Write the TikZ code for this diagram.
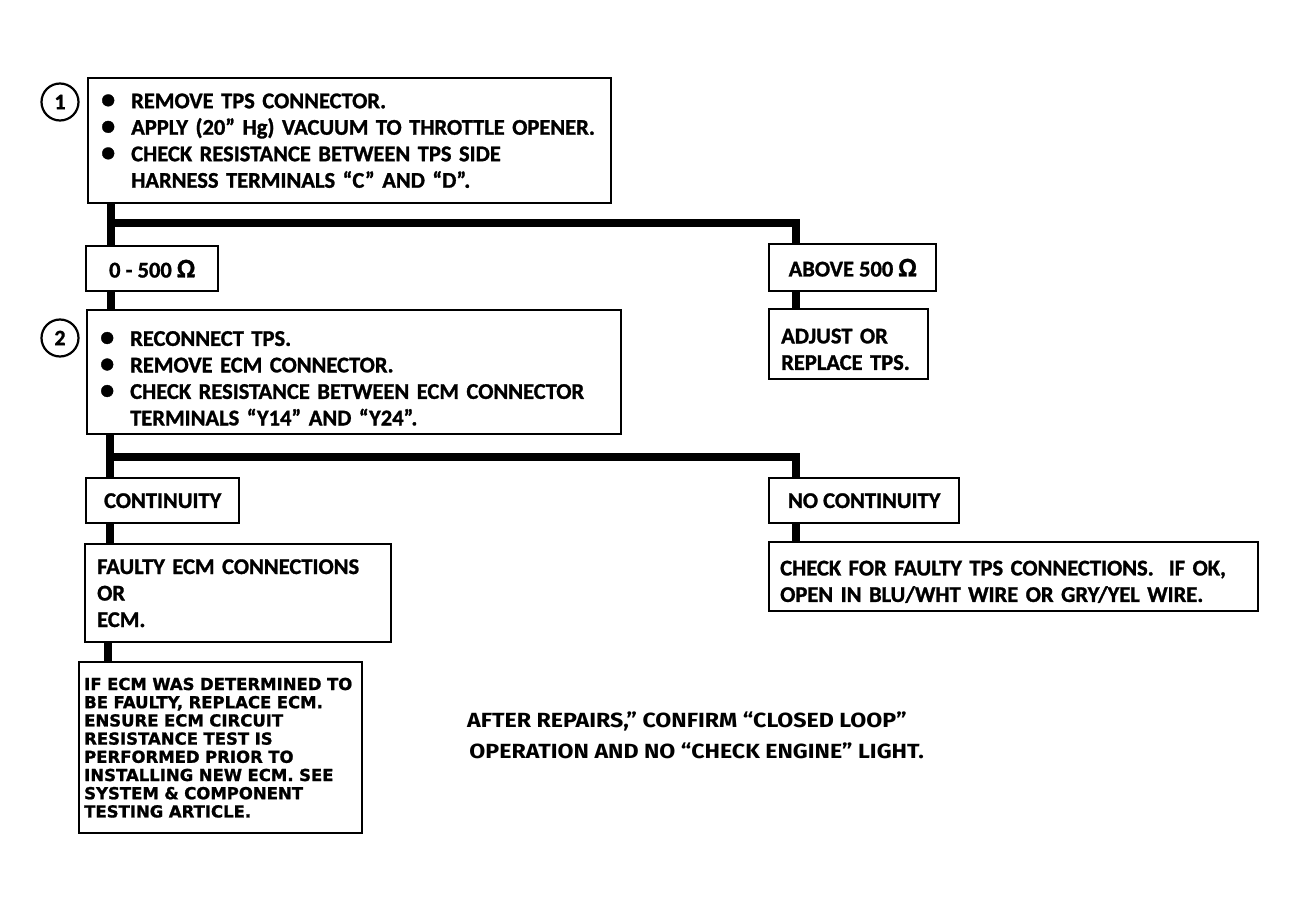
\documentclass[tikz,border=0pt]{standalone}
\usepackage{fontspec}
\setmainfont{Carlito}[BoldFeatures={FakeBold=1.2}]
\newfontfamily\grasfont{DejaVu Sans}[BoldFeatures={FakeBold=1.2}]
\newfontfamily\notefont{Fira Sans}
\newcommand{\puce}[1]{\mbox{\makebox[30pt][l]{\scalebox{1.25}{\textbullet}}#1}}
\newcommand{\suite}[1]{\mbox{\hspace*{30pt}#1}}
\newcommand{\ohm}{\scalebox{1.2}{Ω}}

\begin{document}
\begin{tikzpicture}[x=1pt,y=-1pt]
\tikzset{boite/.style={draw, line width=2.4pt, rectangle, anchor=north west, inner xsep=12pt, inner ysep=0pt, align=left, font=\fontsize{22.5}{26.5}\selectfont\bfseries},
  trait/.style={line width=8pt},
  rond/.style={draw, circle, line width=2.2pt, minimum size=37pt, inner sep=0pt, font=\fontsize{22}{22}\selectfont\bfseries}}
\useasboundingbox (0,0) rectangle (1295,909);
\node[rond] (K1) at (60,102) {1};
\node[boite, inner xsep=13pt, text width=497pt, minimum height=125pt] (E1) at (87,77) {\puce{REMOVE TPS CONNECTOR.}\\ \puce{APPLY (20” Hg) VACUUM TO THROTTLE OPENER.}\\ \puce{CHECK RESISTANCE BETWEEN TPS SIDE}\\ \suite{HARNESS TERMINALS “C” AND “D”.}};
\node[boite, align=center, minimum width=132pt, minimum height=45pt] (R1) at (85,245) {0 - 500 \ohm};
\node[boite, align=center, minimum width=167pt, minimum height=47pt] (A1) at (768,243) {ABOVE 500 \ohm};
\node[boite, text width=135pt, minimum height=70pt] (A2) at (768,308) {\rule{0pt}{25pt}ADJUST OR\\REPLACE TPS.};
\node[rond] (K2) at (60,338) {2};
\node[boite, inner xsep=13pt, text width=508pt, minimum height=124pt] (E2) at (86,309) {\rule{0pt}{27pt}\puce{RECONNECT TPS.}\\ \puce{REMOVE ECM CONNECTOR.}\\ \puce{CHECK RESISTANCE BETWEEN ECM CONNECTOR}\\ \suite{TERMINALS “Y14” AND “Y24”.}};
\node[boite, align=center, minimum width=153pt, minimum height=45pt] (C1) at (85,477) {CONTINUITY};
\node[boite, align=center, minimum width=190pt, minimum height=45pt] (N1) at (768,477) {NO CONTINUITY};
\node[boite, inner xsep=11pt, text width=467pt, minimum height=69pt] (N2) at (768,541) {\rule{0pt}{25pt}\mbox{CHECK FOR FAULTY TPS CONNECTIONS.\ \ IF OK,}\\ \mbox{OPEN IN BLU/WHT WIRE OR GRY/YEL WIRE.}};
\node[boite, text width=282pt, minimum height=98pt] (F1) at (84,543) {FAULTY ECM CONNECTIONS\\OR\\ECM.};
\node[boite, inner xsep=5pt, text width=273pt, minimum height=171pt, font=\grasfont\fontsize{16.5}{18.2}\selectfont\bfseries] (I1) at (78,661) {\mbox{IF ECM WAS DETERMINED TO}\\ \mbox{BE FAULTY, REPLACE ECM.}\\ ENSURE ECM CIRCUIT\\ RESISTANCE TEST IS\\ PERFORMED PRIOR TO\\ \mbox{INSTALLING NEW ECM. SEE}\\ SYSTEM \& COMPONENT\\ TESTING ARTICLE.};
\node[anchor=north west, inner sep=0pt, align=left, transform shape, xscale=1.13, font=\notefont\fontsize{20.5}{31}\selectfont\bfseries] (T1) at (467,712) {AFTER REPAIRS,” CONFIRM “CLOSED LOOP”\\ \hspace*{2pt}OPERATION AND NO “CHECK ENGINE” LIGHT.};
\coordinate (J1) at (111,223);
\coordinate (J2) at (796,223);
\coordinate (J3) at (110,457);
\coordinate (J4) at (796,457);
\coordinate (J5) at (108,650);
\draw[trait] (E1.south -| J1) -- (R1.north -| J1);
\draw[trait] (J1) -- (J2) -- (A1.north -| J2);
\draw[trait] (R1.south -| J1) -- (E2.north -| J1);
\draw[trait] (A1.south -| J2) -- (A2.north -| J2);
\draw[trait] (E2.south -| J3) -- (C1.north -| J3);
\draw[trait] (J3) -- (J4) -- (N1.north -| J4);
\draw[trait] (C1.south -| J3) -- (F1.north -| J3);
\draw[trait] (N1.south -| J4) -- (N2.north -| J4);
\draw[trait] (F1.south -| J5) -- (I1.north -| J5);
\end{tikzpicture}
\end{document}
